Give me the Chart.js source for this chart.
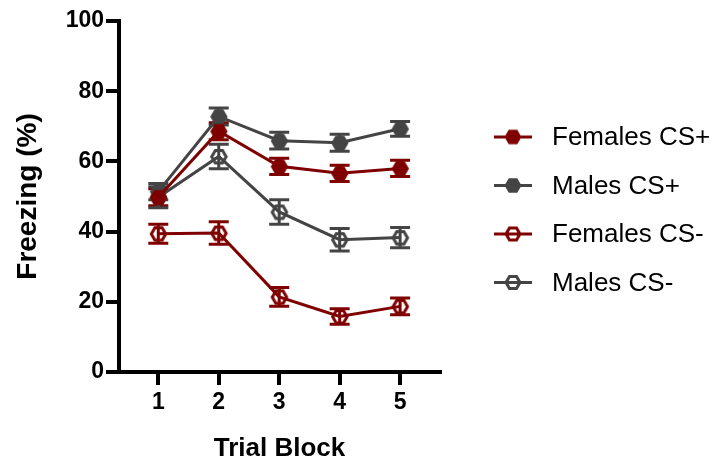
<!DOCTYPE html>
<html>
<head>
<meta charset="utf-8">
<script src="https://cdn.jsdelivr.net/npm/chart.js@4"></script>
<style>
  html, body { margin: 0; padding: 0; background: #fff; }
  #wrap { width: 713px; height: 462px; }
</style>
</head>
<body>
<div id="wrap"><canvas id="freezeChart" width="713" height="462"></canvas></div>
<script>
// data (mean +/- SEM, % freezing)
const trialBlocks = [1, 2, 3, 4, 5];
const femalesCSPlus = [49.8, 68.6, 58.6, 56.6, 58.0];
const femalesCSPlusErr = [2.4, 2.4, 2.3, 2.3, 2.3];
const malesCSPlus = [51.4, 72.8, 65.9, 65.3, 69.3];
const malesCSPlusErr = [2.3, 2.4, 2.4, 2.4, 2.1];
const femalesCSMinus = [39.4, 39.6, 21.4, 15.8, 18.7];
const femalesCSMinusErr = [2.7, 3.2, 2.7, 2.2, 2.4];
const malesCSMinus = [49.8, 61.4, 45.6, 37.7, 38.3];
const malesCSMinusErr = [3.0, 3.5, 3.5, 3.2, 2.9];
const yTicks = [0, 20, 40, 60, 80, 100];

const RED = "#7f0000";
const GREY = "#444444";
const FONT = "'Liberation Sans', Arial, Helvetica, sans-serif";

// hexagon marker drawn on a small canvas, used as a pointStyle
function makeHex(color, filled, r, lineLen = 0) {
  const c = document.createElement("canvas");
  const w = Math.max(2 * r + 6, lineLen);
  const h = 2 * r + 6;
  c.width = w;
  c.height = h;
  const ctx = c.getContext("2d");
  const cx = w / 2;
  const cy = h / 2;

  // legend line through the marker
  if (lineLen) {
    ctx.strokeStyle = color;
    ctx.lineWidth = 3;
    ctx.beginPath();
    ctx.moveTo(0, cy);
    ctx.lineTo(w, cy);
    ctx.stroke();
  }

  const rr = filled ? r : r - 1.5;
  const hexPath = () => {
    ctx.beginPath();
    for (let i = 0; i < 6; i++) {
      const a = (Math.PI / 3) * i;
      const px = cx + rr * Math.cos(a);
      const py = cy + rr * Math.sin(a);
      if (i === 0) ctx.moveTo(px, py);
      else ctx.lineTo(px, py);
    }
    ctx.closePath();
  };

  hexPath();
  if (filled) {
    ctx.fillStyle = color;
    ctx.fill();
  } else {
    if (lineLen) {
      // legend: white inside with the line crossing it
      ctx.fillStyle = "#fff";
      ctx.fill();
      ctx.beginPath();
      ctx.moveTo(cx - rr, cy);
      ctx.lineTo(cx + rr, cy);
      ctx.stroke();
      hexPath();
    }
    ctx.strokeStyle = color;
    ctx.lineWidth = 3;
    ctx.stroke();
  }
  return c;
}

function toPoints(values) {
  return values.map((v, i) => ({ x: trialBlocks[i], y: v }));
}

const series = [
  { label: "Females CS+", values: femalesCSPlus, err: femalesCSPlusErr, color: RED, filled: true },
  { label: "Males CS+", values: malesCSPlus, err: malesCSPlusErr, color: GREY, filled: true },
  { label: "Females CS-", values: femalesCSMinus, err: femalesCSMinusErr, color: RED, filled: false },
  { label: "Males CS-", values: malesCSMinus, err: malesCSMinusErr, color: GREY, filled: false },
];

// error bars drawn under the lines and markers
const errorBars = {
  id: "errorBars",
  beforeDatasetsDraw(chart) {
    const ctx = chart.ctx;
    const xs = chart.scales.x;
    const ys = chart.scales.y;
    ctx.save();
    series.forEach((s) => {
      ctx.strokeStyle = s.color;
      ctx.lineWidth = 3;
      s.values.forEach((v, i) => {
        const x = xs.getPixelForValue(trialBlocks[i]);
        const yHi = ys.getPixelForValue(v + s.err[i]);
        const yLo = ys.getPixelForValue(v - s.err[i]);
        ctx.beginPath();
        ctx.moveTo(x, yHi);
        ctx.lineTo(x, yLo);
        ctx.moveTo(x - 10, yHi);
        ctx.lineTo(x + 10, yHi);
        ctx.moveTo(x - 10, yLo);
        ctx.lineTo(x + 10, yLo);
        ctx.stroke();
      });
    });
    ctx.restore();
  },
};

// legend to the right of the plot, line + marker + label
const sideLegend = {
  id: "sideLegend",
  afterDraw(chart) {
    const ctx = chart.ctx;
    const left = chart.chartArea.right + 54;
    ctx.save();
    ctx.font = "26px " + FONT;
    ctx.fillStyle = "#000";
    ctx.textBaseline = "middle";
    series.forEach((s, i) => {
      const y = 137 + i * 48.5;
      const icon = makeHex(s.color, s.filled, 8.5, 38);
      ctx.drawImage(icon, left, y - icon.height / 2);
      ctx.fillText(s.label, left + 58, y + 1);
    });
    ctx.restore();
  },
};

const ctx = document.getElementById("freezeChart").getContext("2d");
const freezeChart = new Chart(ctx, {
  type: "line",
  data: {
    datasets: series.map((s) => ({
      label: s.label,
      data: toPoints(s.values),
      borderColor: s.color,
      backgroundColor: s.color,
      borderWidth: 3,
      tension: 0,
      pointStyle: makeHex(s.color, s.filled, 8.7),
      pointRadius: 9,
      fill: false,
    })),
  },
  options: {
    responsive: false,
    animation: false,
    events: [],
    layout: { padding: { top: 21, right: 273, bottom: 0, left: 0 } },
    plugins: {
      legend: { display: false },
      tooltip: { enabled: false },
    },
    scales: {
      x: {
        type: "linear",
        min: 0.35,
        max: 5.66,
        afterBuildTicks: (scale) => {
          scale.ticks = trialBlocks.map((v) => ({ value: v }));
        },
        afterFit: (scale) => {
          scale.height = 90;
        },
        grid: { drawOnChartArea: false, color: "#000", lineWidth: 4, tickLength: 13 },
        border: { color: "#000", width: 4 },
        ticks: {
          color: "#000",
          padding: 4,
          font: { family: FONT, size: 23, weight: "bold" },
        },
        title: {
          display: true,
          text: "Trial Block",
          color: "#000",
          padding: { top: 0, bottom: 0 },
          font: { family: FONT, size: 26, weight: "bold", lineHeight: 1 },
        },
      },
      y: {
        min: 0,
        max: 100,
        afterBuildTicks: (scale) => {
          scale.ticks = yTicks.map((v) => ({ value: v }));
        },
        afterFit: (scale) => {
          scale.width = 119;
        },
        grid: { drawOnChartArea: false, color: "#000", lineWidth: 4, tickLength: 13 },
        border: { color: "#000", width: 4 },
        ticks: {
          color: "#000",
          padding: 2,
          font: { family: FONT, size: 23, weight: "bold" },
        },
        title: {
          display: true,
          text: "Freezing (%)",
          color: "#000",
          padding: { top: 14, bottom: 0 },
          font: { family: FONT, size: 28, weight: "bold", lineHeight: 1 },
        },
      },
    },
  },
  plugins: [errorBars, sideLegend],
});
</script>
</body>
</html>
